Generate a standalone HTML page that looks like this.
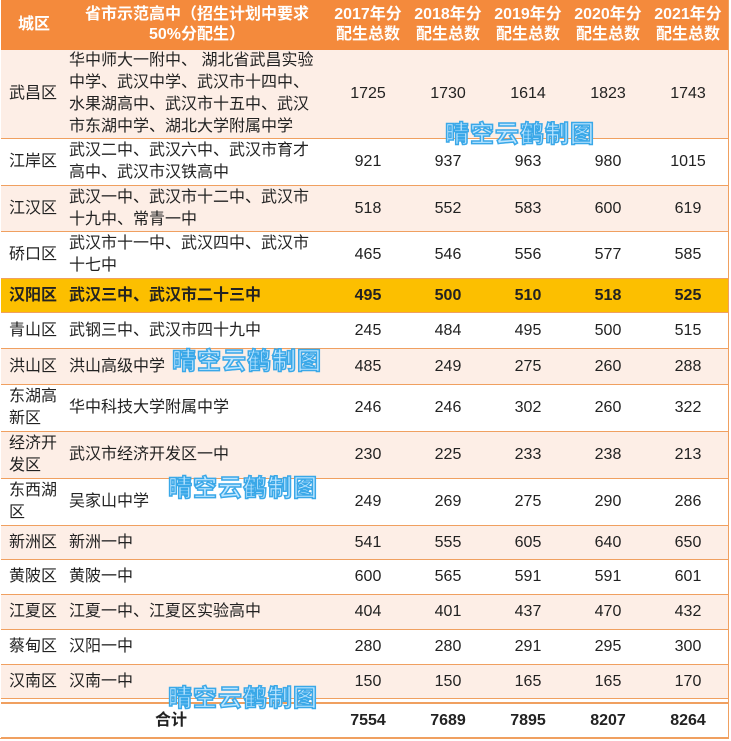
<!DOCTYPE html>
<html><head><meta charset="utf-8"><style>
body{margin:0;width:731px;height:741px;background:#fff;position:relative;overflow:hidden;font-family:"Liberation Sans","Noto Sans CJK SC",sans-serif;}
.r{position:absolute;left:1px;width:728px;border-bottom:1px solid #f0a060;box-sizing:border-box;}
.c{position:absolute;top:0;height:100%;display:flex;align-items:center;font-size:16px;color:#222;line-height:22px;}
.n{justify-content:center;width:80px;}
.wm{position:absolute;font-size:24px;font-weight:bold;color:#bfe6ff;-webkit-text-stroke:1.5px #3aa8e8;letter-spacing:1px;font-family:"Noto Sans CJK SC",sans-serif;}
</style></head><body>
<div id="t"></div>
<script>
const districts=["武昌区","江岸区","江汉区","硚口区","汉阳区","青山区","洪山区","东湖高<br>新区","经济开<br>发区","东西湖<br>区","新洲区","黄陂区","江夏区","蔡甸区","汉南区"];
const schools=["华中师大一附中、 湖北省武昌实验<br>中学、武汉中学、武汉市十四中、<br>水果湖高中、武汉市十五中、武汉<br>市东湖中学、湖北大学附属中学","武汉二中、武汉六中、武汉市育才<br>高中、武汉市汉铁高中","武汉一中、武汉市十二中、武汉市<br>十九中、常青一中","武汉市十一中、武汉四中、武汉市<br>十七中","武汉三中、武汉市二十三中","武钢三中、武汉市四十九中","洪山高级中学","华中科技大学附属中学","武汉市经济开发区一中","吴家山中学","新洲一中","黄陂一中","江夏一中、江夏区实验高中","汉阳一中","汉南一中"];
const y2017=[1725,921,518,465,495,245,485,246,230,249,541,600,404,280,150];
const y2018=[1730,937,552,546,500,484,249,246,225,269,555,565,401,280,150];
const y2019=[1614,963,583,556,510,495,275,302,233,275,605,591,437,291,165];
const y2020=[1823,980,600,577,518,500,260,260,238,290,640,591,470,295,165];
const y2021=[1743,1015,619,585,525,515,288,322,213,286,650,601,432,300,170];
const totals=[7554,7689,7895,8207,8264];
const headers=["2017年分<br>配生总数","2018年分<br>配生总数","2019年分<br>配生总数","2020年分<br>配生总数","2021年分<br>配生总数"];
const rowH=[89,47,46,47,34,36,36,47,47,47,34,35,35,35,34];
const numX=[327,407,487,567,647];
const t=document.getElementById('t');
let h='<div class="r" style="top:0;height:50px;background:#f48a3c;border:none">'+
'<div class="c" style="left:0;width:66px;justify-content:center;color:#fff;font-weight:bold">城区</div>'+
'<div class="c" style="left:66px;width:260px;justify-content:center;text-align:center;color:#fff;font-weight:bold;line-height:20px">省市示范高中（招生计划中要求<br>50%分配生）</div>';
headers.forEach((x,i)=>{h+='<div class="c n" style="left:'+numX[i]+'px;text-align:center;color:#fff;font-weight:bold;line-height:20px">'+x+'</div>';});
h+='</div>';
let y=50;
const cols=[y2017,y2018,y2019,y2020,y2021];
districts.forEach((d,i)=>{
 const hi=i==4;
 const bg=hi?'#fcbf00':(i%2==0?'#fdeee6':'#fff');
 const fw=hi?'bold':'normal';
 h+='<div class="r" style="top:'+y+'px;height:'+rowH[i]+'px;background:'+bg+';font-weight:'+fw+'">';
 h+='<div class="c" style="left:8px;width:60px;font-weight:'+fw+'">'+d+'</div>';
 h+='<div class="c" style="left:68px;width:258px;font-weight:'+fw+'">'+schools[i]+'</div>';
 cols.forEach((c,j)=>{h+='<div class="c n" style="left:'+numX[j]+'px;font-weight:'+fw+'">'+c[i]+'</div>';});
 h+='</div>';
 y+=rowH[i];
});
h+='<div class="r" style="top:'+(y+2)+'px;height:3px;border-bottom:2px solid #f0a060"></div>';
h+='<div class="r" style="top:'+(y+5)+'px;height:34px">';
h+='<div class="c" style="left:140px;width:60px;justify-content:center;font-weight:bold">合计</div>';
totals.forEach((v,j)=>{h+='<div class="c n" style="left:'+numX[j]+'px;font-weight:bold">'+v+'</div>';});
h+='</div>';
h+='<div style="position:absolute;left:0;top:0;width:729px;height:739px;border:1px solid #f0a060;border-left:none;border-top:none;box-sizing:border-box;pointer-events:none"></div>';
t.innerHTML=h;
</script>
<div class="wm" style="left:445px;top:114px">晴空云鹤制图</div>
<div class="wm" style="left:172px;top:341px">晴空云鹤制图</div>
<div class="wm" style="left:168px;top:468px">晴空云鹤制图</div>
<div class="wm" style="left:168px;top:678px">晴空云鹤制图</div>
</body></html>
